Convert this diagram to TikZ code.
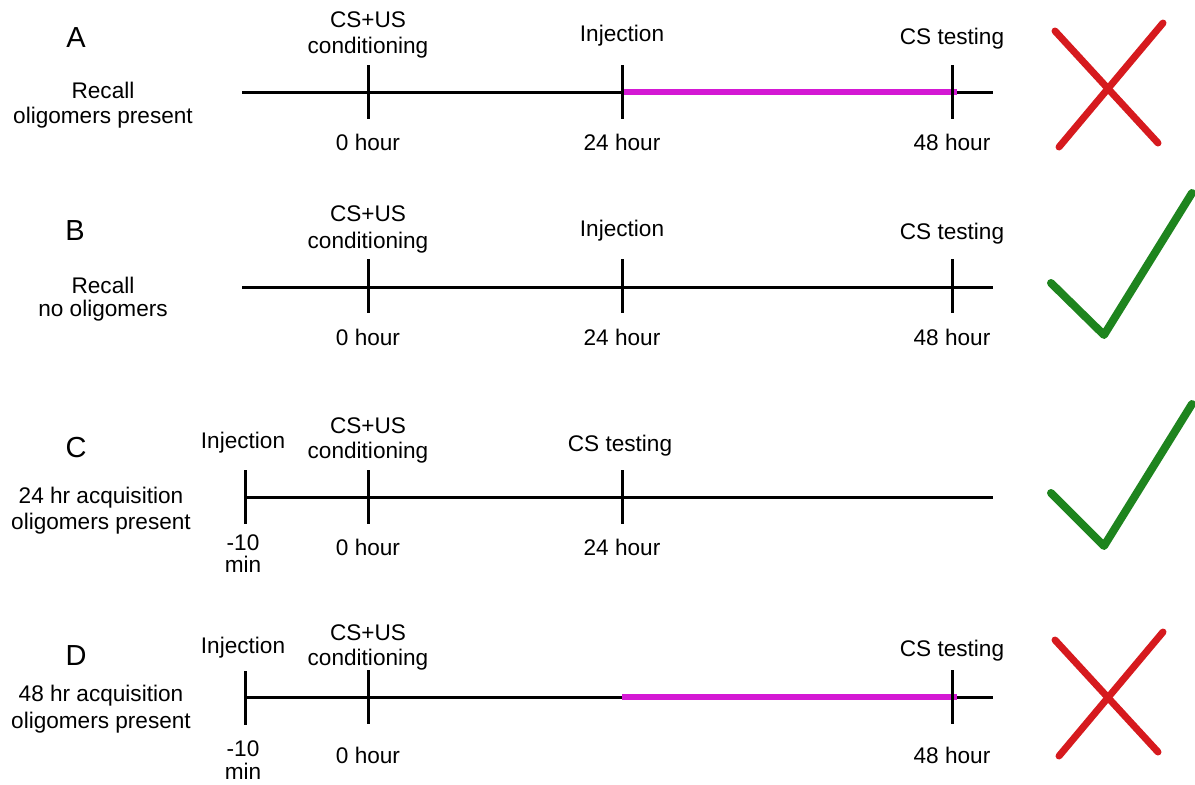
\documentclass[tikz,border=0pt]{standalone}
\usepackage{fontspec}
\setmainfont{Liberation Sans}
\definecolor{magline}{RGB}{212,24,212}
\definecolor{xred}{RGB}{214,26,30}
\definecolor{okgreen}{RGB}{30,132,30}
\begin{document}
\begin{tikzpicture}[x=1pt,y=-1pt,
  txt/.style={font=\fontsize{22.6}{26}\selectfont, inner sep=0pt, anchor=base},
  big/.style={font=\fontsize{29}{31}\selectfont, inner sep=0pt, anchor=base},
  axis/.style={line width=3pt},
  tickline/.style={line width=3pt},
  period/.style={line width=6.5pt, draw=magline},
  crossline/.style={line width=7pt, draw=xred, line cap=round},
  checkline/.style={line width=8pt, draw=okgreen, line cap=round, line join=round}]
\useasboundingbox (0,0) rectangle (1195,785);

% ---------------- Row A ----------------
\node[big] (Alet) at (76,47) {A};
\node[txt] (Ad1) at (103,98) {Recall};
\node[txt] (Ad2) at (103,123) {oligomers present};
\coordinate (As) at (242,92); \coordinate (Ae) at (993,92);
\draw[axis] (As) -- (Ae);
\coordinate (Am0) at (622,92); \coordinate (Am1) at (957,92);
\draw[period] (Am0) -- (Am1);
\coordinate (At1a) at (368,65); \coordinate (At1b) at (368,119);
\coordinate (At2a) at (622,65); \coordinate (At2b) at (622,119);
\coordinate (At3a) at (952,65); \coordinate (At3b) at (952,119);
\draw[tickline] (At1a) -- (At1b);
\draw[tickline] (At2a) -- (At2b);
\draw[tickline] (At3a) -- (At3b);
\node[txt] (Acs1) at (368,27) {CS+US};
\node[txt] (Acs2) at (368,53) {conditioning};
\node[txt] (Ainj) at (622,41) {Injection};
\node[txt] (Atest) at (952,44) {CS testing};
\node[txt] (Ah0) at (368,150) {0 hour};
\node[txt] (Ah24) at (622,150) {24 hour};
\node[txt] (Ah48) at (952,150) {48 hour};
\coordinate (Ax1a) at (1055,31); \coordinate (Ax1b) at (1158,143);
\coordinate (Ax2a) at (1163,23); \coordinate (Ax2b) at (1059,147);
\draw[crossline] (Ax1a) -- (Ax1b);
\draw[crossline] (Ax2a) -- (Ax2b);

% ---------------- Row B ----------------
\node[big] (Blet) at (75,240) {B};
\node[txt] (Bd1) at (103,293) {Recall};
\node[txt] (Bd2) at (103,316) {no oligomers};
\coordinate (Bs) at (242,287); \coordinate (Be) at (993,287);
\draw[axis] (Bs) -- (Be);
\coordinate (Bt1a) at (368,259); \coordinate (Bt1b) at (368,313);
\coordinate (Bt2a) at (622,259); \coordinate (Bt2b) at (622,313);
\coordinate (Bt3a) at (952,259); \coordinate (Bt3b) at (952,313);
\draw[tickline] (Bt1a) -- (Bt1b);
\draw[tickline] (Bt2a) -- (Bt2b);
\draw[tickline] (Bt3a) -- (Bt3b);
\node[txt] (Bcs1) at (368,221) {CS+US};
\node[txt] (Bcs2) at (368,248) {conditioning};
\node[txt] (Binj) at (622,236) {Injection};
\node[txt] (Btest) at (952,239) {CS testing};
\node[txt] (Bh0) at (368,345) {0 hour};
\node[txt] (Bh24) at (622,345) {24 hour};
\node[txt] (Bh48) at (952,345) {48 hour};
\coordinate (Bc1) at (1051,283); \coordinate (Bc2) at (1104,335); \coordinate (Bc3) at (1192,193);
\draw[checkline] (Bc1) -- (Bc2) -- (Bc3);

% ---------------- Row C ----------------
\node[big] (Clet) at (76,457) {C};
\node[txt] (Cd1) at (101,503) {24 hr acquisition};
\node[txt] (Cd2) at (101,529) {oligomers present};
\coordinate (Cs) at (245,497); \coordinate (Ce) at (993,497);
\draw[axis] (Cs) -- (Ce);
\coordinate (Ct0a) at (245,470); \coordinate (Ct0b) at (245,524);
\coordinate (Ct1a) at (368,470); \coordinate (Ct1b) at (368,524);
\coordinate (Ct2a) at (622,470); \coordinate (Ct2b) at (622,524);
\draw[tickline] (Ct0a) -- (Ct0b);
\draw[tickline] (Ct1a) -- (Ct1b);
\draw[tickline] (Ct2a) -- (Ct2b);
\node[txt] (Cinj) at (243,448) {Injection};
\node[txt] (Ccs1) at (368,433) {CS+US};
\node[txt] (Ccs2) at (368,458) {conditioning};
\node[txt] (Ctest) at (620,451) {CS testing};
\node[txt] (Cm1) at (243,550) {-10};
\node[txt] (Cm2) at (243,572) {min};
\node[txt] (Ch0) at (368,555) {0 hour};
\node[txt] (Ch24) at (622,555) {24 hour};
\coordinate (Cc1) at (1051,493); \coordinate (Cc2) at (1104,546); \coordinate (Cc3) at (1192,404);
\draw[checkline] (Cc1) -- (Cc2) -- (Cc3);

% ---------------- Row D ----------------
\node[big] (Dlet) at (76,665) {D};
\node[txt] (Dd1) at (101,701) {48 hr acquisition};
\node[txt] (Dd2) at (101,728) {oligomers present};
\coordinate (Ds) at (245,697); \coordinate (De) at (993,697);
\draw[axis] (Ds) -- (De);
\coordinate (Dm0) at (622,697); \coordinate (Dm1) at (957,697);
\draw[period] (Dm0) -- (Dm1);
\coordinate (Dt0a) at (245,671); \coordinate (Dt0b) at (245,725);
\coordinate (Dt1a) at (368,670); \coordinate (Dt1b) at (368,724);
\coordinate (Dt3a) at (952,670); \coordinate (Dt3b) at (952,724);
\draw[tickline] (Dt0a) -- (Dt0b);
\draw[tickline] (Dt1a) -- (Dt1b);
\draw[tickline] (Dt3a) -- (Dt3b);
\node[txt] (Dinj) at (243,653) {Injection};
\node[txt] (Dcs1) at (368,640) {CS+US};
\node[txt] (Dcs2) at (368,665) {conditioning};
\node[txt] (Dtest) at (952,656) {CS testing};
\node[txt] (Dm1t) at (243,756) {-10};
\node[txt] (Dm2t) at (243,779) {min};
\node[txt] (Dh0) at (368,763) {0 hour};
\node[txt] (Dh48) at (952,763) {48 hour};
\coordinate (Dx1a) at (1055,640); \coordinate (Dx1b) at (1158,752);
\coordinate (Dx2a) at (1163,632); \coordinate (Dx2b) at (1059,756);
\draw[crossline] (Dx1a) -- (Dx1b);
\draw[crossline] (Dx2a) -- (Dx2b);
\end{tikzpicture}
\end{document}
